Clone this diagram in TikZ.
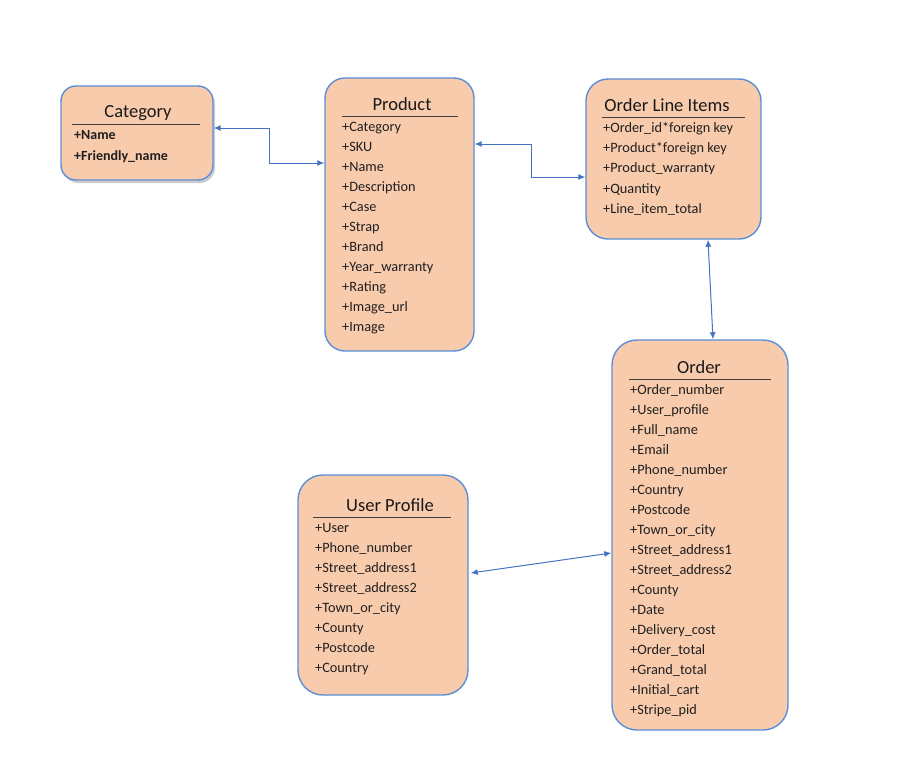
\documentclass[tikz,border=0pt]{standalone}
\usepackage{fontspec}
\setmainfont{Carlito}
\usetikzlibrary{shadows,arrows.meta}
\definecolor{boxfill}{HTML}{F8CBAD}
\definecolor{boxline}{RGB}{91,142,214}
\definecolor{connc}{RGB}{68,114,196}
\definecolor{rulec}{HTML}{404040}
\begin{document}
\begin{tikzpicture}[x=1pt,y=-1pt,
  entity/.style={draw=boxline, line width=1.4pt, fill=boxfill, inner sep=0pt},
  ttl/.style={font=\fontsize{18.5}{20}\selectfont, text=black!90, inner sep=0pt},
  item/.style={anchor=west, font=\fontsize{14.3}{16}\selectfont, text=black!88, inner sep=0pt, text height=10pt, text depth=3pt},
  bitem/.style={item, font=\fontsize{14}{16}\selectfont\bfseries},
  hrule/.style={draw=rulec, line width=0.8pt},
  conn/.style={draw=connc, line width=1pt, {Latex[length=7pt,width=6pt]}-{Latex[length=7pt,width=6pt]}}
]
\useasboundingbox (0,0) rectangle (922,772);

% Category
\node[entity, rounded corners=15pt, minimum width=152pt, minimum height=94pt,
  drop shadow={opacity=0.4, shadow xshift=2pt, shadow yshift=-3pt}] (cat) at (137,133) {};
\node[ttl] (catt) at (138,113) {Category};
\draw[hrule] (72,124) -- (200,124);
\node[bitem] (c1) at (74,135.5) {+Name};
\node[bitem] (c2) at (74,156.5) {+Friendly\_name};

% Product
\node[entity, rounded corners=20pt, minimum width=149pt, minimum height=273pt] (prod) at (399.5,214.5) {};
\node[ttl] (prodt) at (402,104) {Product};
\draw[hrule] (342,116) -- (458,116);
\foreach \t [count=\i from 0] in {Category,SKU,Name,Description,Case,Strap,Brand,Year\_warranty,Rating,Image\_url,Image}
  \node[item] (p\i) at (342,127.5+20*\i) {+\t};

% Order Line Items
\node[entity, rounded corners=22pt, minimum width=175pt, minimum height=160pt] (oli) at (673.5,159) {};
\node[ttl] (olit) at (667,105) {Order Line Items};
\draw[hrule] (602,117) -- (745,117);
\foreach \t [count=\i from 0] in {Order\_id*foreign key,Product*foreign key,Product\_warranty,Quantity,Line\_item\_total}
  \node[item] (o\i) at (603,129+20.2*\i) {+\t};

% Order
\node[entity, rounded corners=25pt, minimum width=176pt, minimum height=390pt] (ord) at (700,535) {};
\node[ttl] (ordt) at (699,367) {Order};
\draw[hrule] (629,379) -- (771,379);
\foreach \t [count=\i from 0] in {Order\_number,User\_profile,Full\_name,Email,Phone\_number,Country,Postcode,Town\_or\_city,Street\_address1,Street\_address2,County,Date,Delivery\_cost,Order\_total,Grand\_total,Initial\_cart,Stripe\_pid}
  \node[item] (r\i) at (630,390.5+20.05*\i) {+\t};

% User Profile
\node[entity, rounded corners=25pt, minimum width=170pt, minimum height=220pt] (up) at (383,585) {};
\node[ttl] (upt) at (390,505) {User Profile};
\draw[hrule] (313,517) -- (451,517);
\foreach \t [count=\i from 0] in {User,Phone\_number,Street\_address1,Street\_address2,Town\_or\_city,County,Postcode,Country}
  \node[item] (u\i) at (315,528.5+20*\i) {+\t};

% Connectors
\draw[conn] ([yshift=5pt]cat.east) -- ++(56,0) |- ([yshift=51.5pt]prod.west);
\draw[conn] ([yshift=70.5pt]prod.east) -- ++(57,0) |- ([yshift=-18pt]oli.west);
\draw[conn] ([xshift=34.5pt]oli.south) -- ([xshift=13pt]ord.north);
\draw[conn] ([yshift=12pt, xshift=2pt]up.east) -- ([yshift=-18pt]ord.west);
\end{tikzpicture}
\end{document}
